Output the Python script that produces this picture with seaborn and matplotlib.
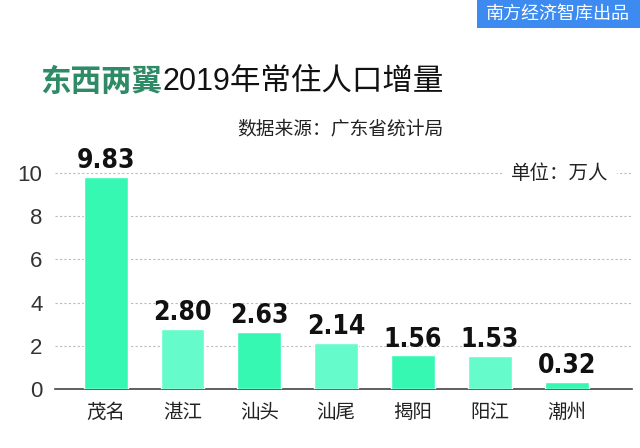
import matplotlib
matplotlib.use("Agg")
import matplotlib.pyplot as plt
import seaborn as sns
import pandas as pd
from matplotlib.patches import Rectangle
from matplotlib import font_manager as fm

cities = ["茂名", "湛江", "汕头", "汕尾", "揭阳", "阳江", "潮州"]
values = [9.83, 2.80, 2.63, 2.14, 1.56, 1.53, 0.32]
value_labels = ["9.83", "2.80", "2.63", "2.14", "1.56", "1.53", "0.32"]
yticks = [0, 2, 4, 6, 8, 10]

title_green = "东西两翼"
title_rest = "2019年常住人口增量"
subtitle = "数据来源：广东省统计局"
unit_text = "单位：万人"
badge_text = "南方经济智库出品"

sns.set_theme(style="white")
plt.rcParams['font.family'] = ['Noto Sans CJK SC', 'DejaVu Sans']

names = sorted({f.name for f in fm.fontManager.ttflist})
cond = [f for f in fm.fontManager.ttflist if 'ondensed' in f.fname or 'Narrow' in f.fname]
print(names)
print([(f.name, f.stretch, f.weight, f.fname) for f in cond])

df = pd.DataFrame({"city": cities, "value": values})
c1, c2 = "#36F8B3", "#66FBCA"
palette = [c1 if i % 2 == 0 else c2 for i in range(len(cities))]

fig = plt.figure(figsize=(6.4, 4.48), dpi=100)
ax = fig.add_axes([55/640, (448-389)/448, 577/640, 0.5303])

sns.barplot(data=df, x="city", y="value", hue="city", palette=palette,
            legend=False, width=0.57, ax=ax, saturation=1, zorder=3)

ax.set_ylim(0, 11)
ax.set_xlim(-0.66, 6.85)
ax.set_yticks(yticks)
ax.set_yticklabels([str(t) for t in yticks], fontsize=16, color="#333333",
                   family=['Liberation Sans', 'DejaVu Sans'])
ax.tick_params(axis='y', length=0, pad=9)
ax.tick_params(axis='x', length=0, pad=9, labelsize=14, labelcolor="#222222")
ax.set_xlabel("")
ax.set_ylabel("")
for s in ["left", "right", "top"]:
    ax.spines[s].set_visible(False)
ax.spines["bottom"].set_color("#444444")
ax.spines["bottom"].set_linewidth(1.2)
for t in yticks[1:]:
    ax.axhline(t, color="#BBBBBB", lw=0.8, ls=(0, (2, 2)), zorder=1)

for i, (v, lab) in enumerate(zip(values, value_labels)):
    ax.annotate(lab, (i, v), xytext=(0, 2), textcoords="offset points",
                ha="center", va="bottom", fontsize=19, fontweight="bold",
                fontstretch="condensed",
                family=['DejaVu Sans'], color="#111111",
                zorder=5)

ax.text(0.79, 10, unit_text, transform=ax.get_yaxis_transform(),
        ha="left", va="center", fontsize=14, color="#222222", zorder=6,
        bbox=dict(facecolor="white", edgecolor="none", pad=6))

# Title
t1 = fig.text(40/640, 1-82/448, title_green, fontsize=22, color="#2E8B66",
              ha="left", va="center", fontweight="bold")
fig.canvas.draw()
bb = t1.get_window_extent()
fig.text(bb.x1/640, 1-82/448, title_rest, fontsize=22, color="#111111",
         ha="left", va="center", family=['Liberation Sans', 'Noto Sans CJK SC'])
fig.text(443/640, 1-129/448, subtitle, fontsize=13.5, color="#222222",
         ha="right", va="center")

# Badge
fig.patches.append(Rectangle((477/640, 1-28/448), 163/640, 28/448,
                             transform=fig.transFigure, facecolor="#3D8BF0",
                             edgecolor="none", zorder=0))
fig.text(558/640, 1-14/448, badge_text, fontsize=13, color="white",
         ha="center", va="center")

fig.savefig("out.png", dpi=100)
